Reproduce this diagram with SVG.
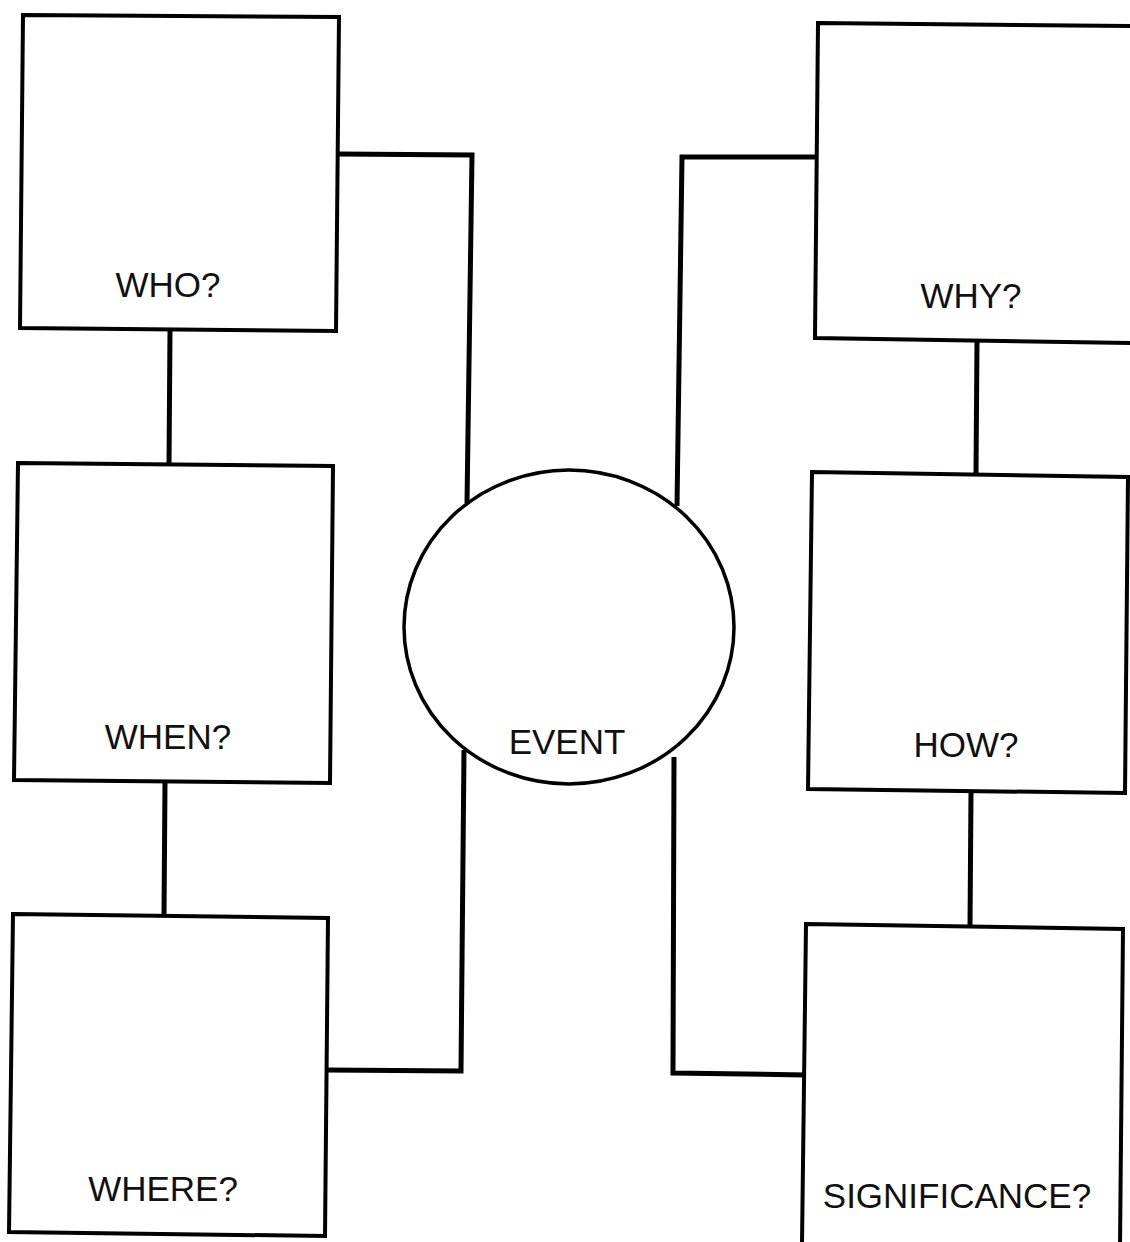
<svg xmlns="http://www.w3.org/2000/svg" width="1130" height="1242" viewBox="0 0 1130 1242">
<style>
.box{fill:#fff;stroke:#000;stroke-width:4;stroke-linejoin:miter}
.conn{fill:none;stroke:#000;stroke-width:5;stroke-linejoin:miter}
.lbl{font-family:"Liberation Sans",Arial,sans-serif;font-size:35px;fill:#111;text-anchor:middle}
</style>
<rect width="1130" height="1242" fill="#fff"/>
<g id="connectors">
<path class="conn" d="M338,154 L472,155 L467,503"/>
<path class="conn" d="M326,1070 L461,1071 L464,750"/>
<path class="conn" d="M817,157 L682,157 L677,506"/>
<path class="conn" d="M806,1075 L673,1073 L674,757"/>
<path class="conn" d="M170,331 L169,465"/>
<path class="conn" d="M165,783 L164,915"/>
<path class="conn" d="M977,341 L976,474"/>
<path class="conn" d="M971,793 L970,926"/>
</g>
<g id="who">
<path class="box" d="M23,15 L339,17 L336,331 L20,328 Z"/>
<text class="lbl" x="168" y="297">WHO?</text>
</g>
<g id="when">
<path class="box" d="M18,463 L333,466 L330,783 L14,780 Z"/>
<text class="lbl" x="168" y="749">WHEN?</text>
</g>
<g id="where">
<path class="box" d="M13,914 L328,918 L325,1236 L9,1232 Z"/>
<text class="lbl" x="163" y="1201">WHERE?</text>
</g>
<g id="why">
<path class="box" d="M818,23 L1132,26 L1132,343 L815,338 Z"/>
<text class="lbl" x="971" y="308">WHY?</text>
</g>
<g id="how">
<path class="box" d="M812,472 L1128,477 L1125,793 L808,789 Z"/>
<text class="lbl" x="966" y="757">HOW?</text>
</g>
<g id="significance">
<path class="box" d="M806,924 L1123,929 L1120,1246 L802,1244 Z"/>
<text class="lbl" x="957" y="1208">SIGNIFICANCE?</text>
</g>
<g id="event">
<ellipse cx="569" cy="627" rx="165" ry="157" fill="#fff" stroke="#000" stroke-width="3.5"/>
<text class="lbl" x="567" y="754">EVENT</text>
</g>
</svg>
